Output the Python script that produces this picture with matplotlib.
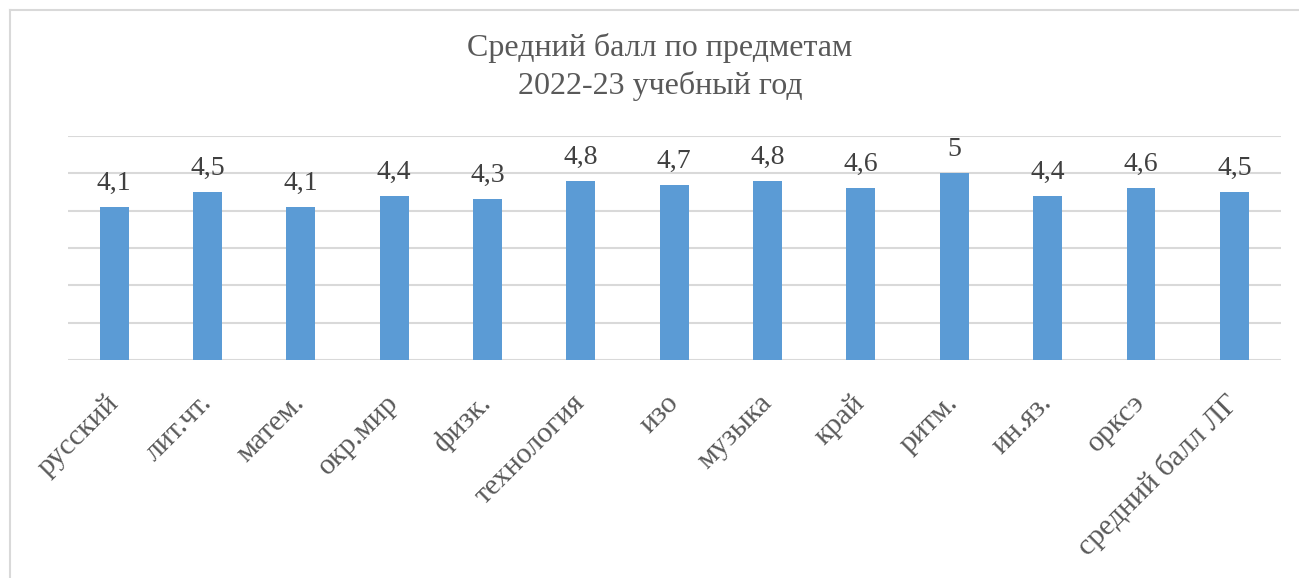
import matplotlib
matplotlib.use("Agg")
import matplotlib.pyplot as plt
from matplotlib.lines import Line2D

categories = ["русский", "лит.чт.", "матем.", "окр.мир", "физк.", "технология", "изо",
              "музыка", "край", "ритм.", "ин.яз.", "орксэ", "средний балл ЛГ"]
values = [4.1, 4.5, 4.1, 4.4, 4.3, 4.8, 4.7, 4.8, 4.6, 5, 4.4, 4.6, 4.5]
labels = ["4,1", "4,5", "4,1", "4,4", "4,3", "4,8", "4,7", "4,8", "4,6", "5", "4,4", "4,6", "4,5"]
title = "Средний балл по предметам\n2022-23 учебный год"

plt.rcParams['font.family'] = ['Liberation Serif', 'DejaVu Serif']
text_color = "#595959"

fig = plt.figure(figsize=(12.99, 5.78), dpi=100)
W, H = 1299, 578
ax = fig.add_axes([67.5 / W, 1 - 360 / H, (1281 - 67.5) / W, (360 - 136) / H])

x = list(range(len(categories)))
bars = ax.bar(x, values, width=0.31, color="#5b9bd5", zorder=3)
ax.set_xlim(-0.5, len(categories) - 0.5)
ax.set_ylim(0, 6)
ax.set_yticks([0, 1, 2, 3, 4, 5, 6])
ax.yaxis.grid(True, color="#d9d9d9", linewidth=1.5, zorder=0)
ax.tick_params(axis='y', left=False, labelleft=False)
ax.tick_params(axis='x', length=0, pad=28)
for s in ax.spines.values():
    s.set_visible(False)
ax.set_xticks(x)
ax.set_xticklabels(categories, rotation=45, ha='right', va='center',
                   rotation_mode='anchor', fontsize=21.5, color=text_color)

for b, lab in zip(bars, labels):
    ax.annotate(lab, (b.get_x() + b.get_width() / 2, b.get_height()),
                xytext=(0, 8), textcoords='offset points', ha='center', va='bottom',
                fontsize=20, color="#404040")

fig.text(660 / W, 1 - 67 / H, title, ha='center', va='center', fontsize=23,
         color=text_color, linespacing=1.38)

# chart border
fig.add_artist(Line2D([9.5 / W, 9.5 / W], [0, 1 - 9.5 / H], transform=fig.transFigure,
                      color="#d9d9d9", linewidth=1.5))
fig.add_artist(Line2D([9.5 / W, 1], [1 - 9.5 / H, 1 - 9.5 / H], transform=fig.transFigure,
                      color="#d9d9d9", linewidth=1.5))

fig.savefig("out.png", dpi=100, facecolor="white")
